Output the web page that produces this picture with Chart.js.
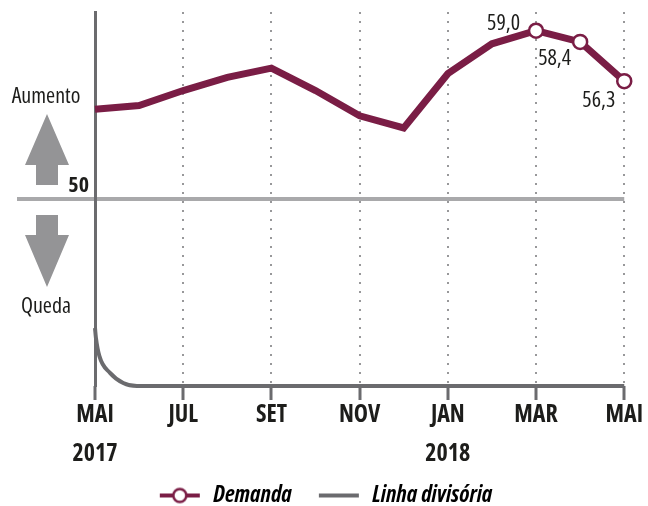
<!DOCTYPE html>
<html>
<head>
<meta charset="utf-8">
<script src="https://cdn.jsdelivr.net/npm/chart.js@4.4.1/dist/chart.umd.min.js"></script>
<style>
  html, body { margin: 0; padding: 0; background: #fff; }
  #wrap { width: 648px; height: 506px; }
</style>
</head>
<body>
<div id="wrap"><canvas id="chart" width="648" height="506"></canvas></div>
<script>
// monthly index, MAI 2017 = 0 ... MAI 2018 = 12
const months = ['MAI', 'JUN', 'JUL', 'AGO', 'SET', 'OUT', 'NOV', 'DEZ', 'JAN', 'FEV', 'MAR', 'ABR', 'MAI'];
const demanda = [54.8, 55.0, 55.8, 56.5, 57.0, 55.8, 54.45, 53.8, 56.7, 58.3, 59.0, 58.4, 56.3];
const divisoriaX = [0, 0.02, 0.1, 0.34, 0.64, 0.95, 12];
const divisoriaY = [43.1, 42.6, 41.6, 40.7, 40.16, 40.0, 40.0];
const tickMonths = ['MAI', 'JUL', 'SET', 'NOV', 'JAN', 'MAR', 'MAI'];
const tickYears = ['2017', '', '', '', '2018', '', ''];
const seriesNames = ['Demanda', 'Linha divisória'];
const labelled = [10, 11, 12];

// Open Sans is variable, "condensed" narrows it like the original face
const FONT = '"Open Sans", sans-serif';
const MAROON = '#7a1d45';
const DARK = '#6b6b6e';
const LIGHT = '#a9a9ab';
const ARROW = '#949496';
const TEXT = '#1d1d1b';

Chart.defaults.font.family = FONT;
Chart.defaults.color = TEXT;

function swatch(withCircle, color) {
  const c = document.createElement('canvas');
  c.width = 66; c.height = 18;
  const g = c.getContext('2d');
  g.strokeStyle = color;
  g.lineWidth = 4;
  g.beginPath(); g.moveTo(24, 9); g.lineTo(64, 9); g.stroke();
  if (withCircle) {
    g.beginPath(); g.arc(44, 9, 6.5, 0, Math.PI * 2);
    g.fillStyle = '#fff'; g.fill();
    g.lineWidth = 2.5; g.stroke();
  }
  return c;
}

const extras = {
  id: 'extras',
  beforeDraw(chart) {
    const { ctx, chartArea, scales: { y } } = chart;
    const y50 = y.getPixelForValue(50);
    ctx.save();
    ctx.strokeStyle = LIGHT;
    ctx.lineWidth = 4;
    ctx.beginPath();
    ctx.moveTo(17, y50);
    ctx.lineTo(chartArea.right, y50);
    ctx.stroke();
    ctx.restore();
  },
  afterDraw(chart) {
    const { ctx, scales: { y } } = chart;
    const y50 = y.getPixelForValue(50);
    ctx.save();
    ctx.fillStyle = ARROW;
    ctx.beginPath();
    ctx.moveTo(47, y50 - 85);
    ctx.lineTo(69, y50 - 34);
    ctx.lineTo(58, y50 - 34);
    ctx.lineTo(58, y50 - 14);
    ctx.lineTo(36, y50 - 14);
    ctx.lineTo(36, y50 - 34);
    ctx.lineTo(25, y50 - 34);
    ctx.closePath();
    ctx.fill();
    ctx.beginPath();
    ctx.moveTo(36, y50 + 16);
    ctx.lineTo(58, y50 + 16);
    ctx.lineTo(58, y50 + 36);
    ctx.lineTo(69, y50 + 36);
    ctx.lineTo(47, y50 + 88);
    ctx.lineTo(25, y50 + 36);
    ctx.lineTo(36, y50 + 36);
    ctx.closePath();
    ctx.fill();
    ctx.fillStyle = TEXT;
    ctx.textBaseline = 'middle';
    ctx.textAlign = 'center';
    ctx.font = 'condensed 22px ' + FONT;
    ctx.fillText('Aumento', 46, y50 - 102);
    ctx.fillText('Queda', 46, y50 + 108);
    ctx.textAlign = 'right';
    ctx.font = 'bold condensed 22px ' + FONT;
    ctx.fillText('50', 89, y50 - 13);
    const pts = chart.getDatasetMeta(0).data;
    const offs = [[-16, -7, 'right'], [-42, 17, 'left'], [-9, 20, 'right']];
    ctx.font = 'condensed 22px ' + FONT;
    labelled.forEach((idx, k) => {
      const p = pts[idx];
      ctx.textAlign = offs[k][2];
      ctx.fillText(demanda[idx].toFixed(1).replace('.', ','), p.x + offs[k][0], p.y + offs[k][1]);
    });
    ctx.restore();
  }
};

new Chart(document.getElementById('chart'), {
  type: 'line',
  data: {
    datasets: [
      {
        label: seriesNames[0],
        data: demanda.map((v, i) => ({ x: i, y: v })),
        borderColor: MAROON,
        borderWidth: 7,
        pointRadius: ctx => labelled.includes(ctx.dataIndex) ? 7 : 0,
        pointBackgroundColor: '#fff',
        pointBorderColor: MAROON,
        pointBorderWidth: 2.5,
        clip: false,
        order: 0
      },
      {
        label: seriesNames[1],
        data: divisoriaX.map((x, i) => ({ x, y: divisoriaY[i] })),
        borderColor: DARK,
        borderWidth: 4,
        pointRadius: 0,
        cubicInterpolationMode: 'monotone',
        clip: false,
        order: 1
      }
    ]
  },
  options: {
    responsive: false,
    animation: false,
    devicePixelRatio: 1,
    layout: { padding: { top: 12, right: 20, left: 0, bottom: -11 } },
    scales: {
      x: {
        type: 'linear',
        min: 0,
        max: 12,
        afterFit: s => { s.height = 95; },
        border: { display: false, dash: [2, 7] },
        grid: {
          color: ctx => ctx.tick && ctx.tick.value === 0 ? 'rgba(0,0,0,0)' : '#98989a',
          lineWidth: 2,
          drawTicks: true,
          tickLength: 14,
          tickWidth: 3,
          tickColor: DARK,
          tickBorderDash: []
        },
        ticks: {
          stepSize: 2,
          autoSkip: false,
          maxRotation: 0,
          padding: 5,
          color: TEXT,
          font: { size: 24, weight: 'bold condensed', lineHeight: '19.5px' },
          callback: v => [tickMonths[v / 2], '', tickYears[v / 2]]
        }
      },
      y: {
        min: 40,
        max: 60,
        afterFit: s => { s.width = 95; },
        grid: { display: false, drawTicks: false },
        border: { display: true, color: DARK, width: 3 },
        ticks: { display: false }
      }
    },
    plugins: {
      tooltip: { enabled: false },
      legend: {
        position: 'bottom',
        onClick: null,
        labels: {
          usePointStyle: true,
          pointStyleWidth: 66,
          padding: 3,
          color: TEXT,
          font: { size: 23, weight: 'bold condensed', style: 'italic', lineHeight: 1 },
          generateLabels: () => [
            { text: seriesNames[0], pointStyle: swatch(true, MAROON), datasetIndex: 0, lineWidth: 0, hidden: false },
            { text: seriesNames[1], pointStyle: swatch(false, DARK), datasetIndex: 1, lineWidth: 0, hidden: false }
          ]
        }
      }
    }
  },
  plugins: [extras]
});
</script>
</body>
</html>
